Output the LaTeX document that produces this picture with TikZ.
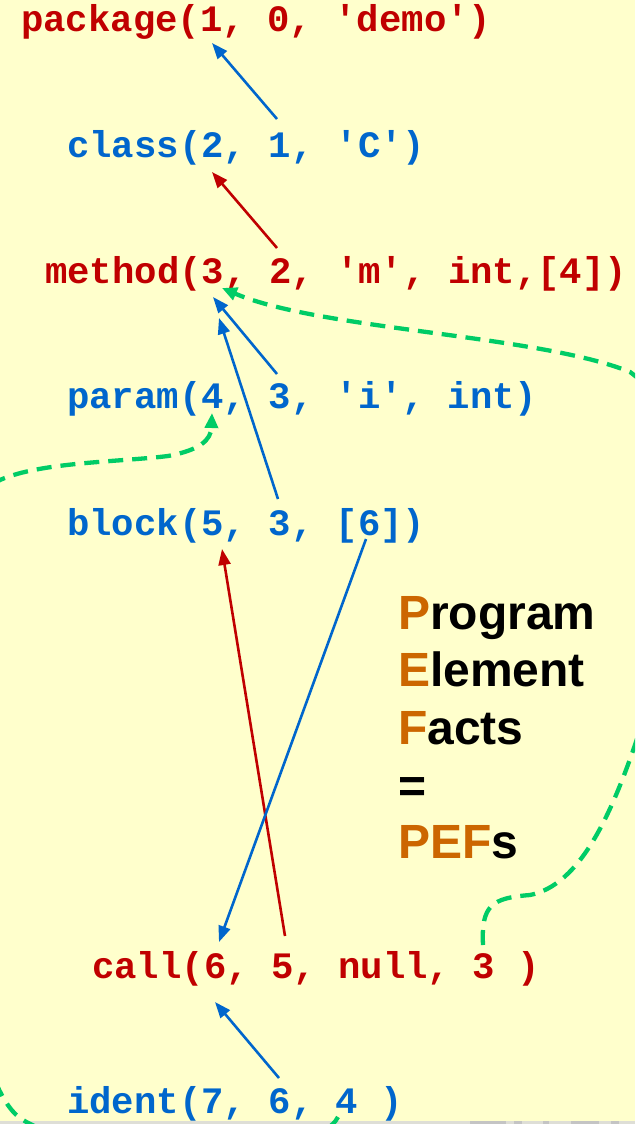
\documentclass[tikz,border=0pt]{standalone}
\usepackage{fontspec}
\setmainfont{Liberation Sans}
\setmonofont{Liberation Mono}
\usetikzlibrary{arrows.meta}
\definecolor{bg}{RGB}{255,255,204}
\definecolor{cred}{RGB}{192,0,0}
\definecolor{cblue}{RGB}{0,102,204}
\definecolor{corange}{RGB}{204,102,0}
\definecolor{cgreen}{RGB}{0,204,102}
\definecolor{band}{RGB}{222,222,214}
\definecolor{bandmark}{RGB}{196,196,196}
\begin{document}
\begin{tikzpicture}[x=1pt,y=-1pt,
  code/.style={anchor=base west, inner sep=0pt, font=\ttfamily\bfseries\fontsize{37.3}{40}\selectfont},
  redc/.style={code, text=cred},
  bluec/.style={code, text=cblue},
  pef/.style={anchor=base west, inner sep=0pt, font=\bfseries\fontsize{48}{52}\selectfont},
  link/.style={line width=2.6pt, -{Triangle[length=16pt,width=12pt]}},
  xref/.style={cgreen, line width=4.3pt, dash pattern=on 15pt off 9pt, -{Triangle[length=15pt,width=13pt]}}]
\useasboundingbox (0,0) rectangle (635,1124);
\fill[bg] (0,0) rectangle (635,1124);
\fill[band] (0,1121) rectangle (635,1124);
\foreach \a/\b in {470/506,514/522,543/549,571/599,611/619}
  \fill[bandmark] (\a,1121) rectangle (\b,1124);

% code facts
\node[redc]  (pkg) at (21,32)   {package(1, 0, 'demo')};
\node[bluec] (cls) at (67,157)  {class(2, 1, 'C')};
\node[redc]  (mth) at (45,283)  {method(3, 2, 'm', int,[4])};
\node[bluec] (prm) at (67,408)  {param(4, 3, 'i', int)};
\node[bluec] (blk) at (67,535)  {block(5, 3, [6])};
\node[redc]  (cal) at (92,978)  {call(6, 5, null, 3 )};
\node[bluec] (idt) at (67,1113) {ident(7, 6, 4 )};

% title
\node[pef] (t1) at (398,629) {\textcolor{corange}{P}rogram};
\node[pef] (t2) at (398,686) {\textcolor{corange}{E}lement};
\node[pef] (t3) at (398,744) {\textcolor{corange}{F}acts};
\node[pef] (t4) at (398,802) {=};
\node[pef] (t5) at (398,858) {\textcolor{corange}{PEF}s};

% connector end points
\coordinate (clsS) at (277,119);  \coordinate (pkgT) at (212,43);
\coordinate (mthS) at (277,248);  \coordinate (clsT) at (212,172);
\coordinate (prmS) at (277,374);  \coordinate (mthT1) at (213,297);
\coordinate (blkS) at (278,499);  \coordinate (mthT2) at (219,318);
\coordinate (calS) at (285,936);  \coordinate (blkT) at (222,549);
\coordinate (blkS6) at (366,539); \coordinate (calT1) at (219,942);
\coordinate (idtS) at (279,1078); \coordinate (calT2) at (215,1002);
\coordinate (cal3) at (483,945);  \coordinate (mth3) at (222,288);
\coordinate (idt4) at (338,1117); \coordinate (prm4) at (212,413);

\draw[link,cblue] (clsS) -- (pkgT);
\draw[link,cred]  (mthS) -- (clsT);
\draw[link,cblue] (prmS) -- (mthT1);
\draw[link,cblue] (blkS) -- (mthT2);
\draw[link,cred]  (calS) -- (blkT);
\draw[link,cblue] (blkS6) -- (calT1);
\draw[link,cblue] (idtS) -- (calT2);

\begin{scope}
\clip (0,0) rectangle (635,1124);
\draw[xref] (cal3) .. controls (481,905) and (492,898) .. (530,895)
  .. controls (580,885) and (612,815) .. (640,730)
  .. controls (680,610) and (700,420) .. (630,372)
  .. controls (540,335) and (320,330) .. (mth3);
\draw[xref] (idt4) .. controls (315,1165) and (80,1160) .. (20,1118)
  .. controls (-60,1060) and (-80,520) .. (0,480)
  .. controls (40,462) and (120,462) .. (168,456)
  .. controls (200,450) and (211,440) .. (prm4);
\end{scope}
\end{tikzpicture}
\end{document}
